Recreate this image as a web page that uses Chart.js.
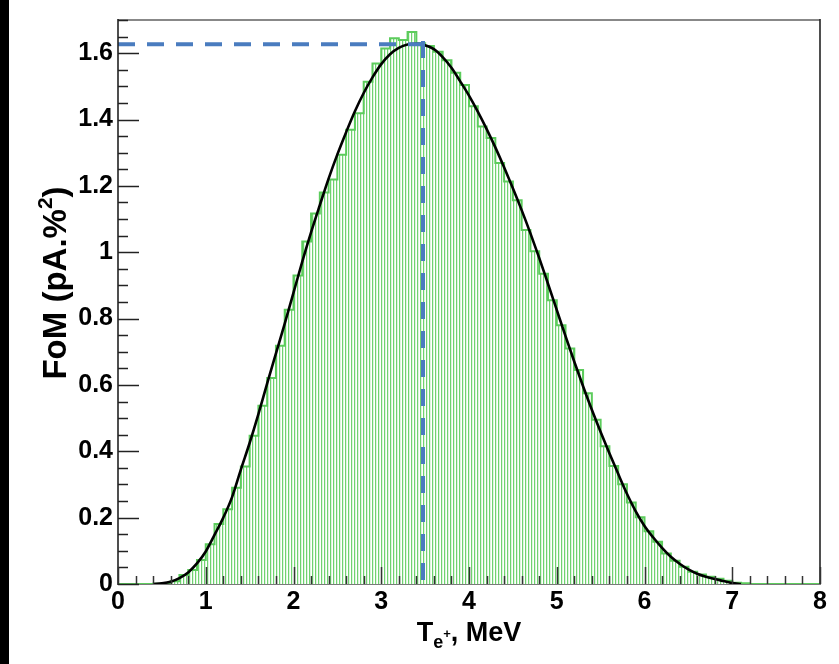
<!DOCTYPE html>
<html>
<head>
<meta charset="utf-8">
<script src="https://cdn.jsdelivr.net/npm/chart.js@4.4.0/dist/chart.umd.min.js"></script>
<style>
  html, body { margin: 0; padding: 0; background: #fff; }
  #wrap { width: 839px; height: 664px; }
</style>
</head>
<body>
<div id="wrap"><canvas id="fom" width="839" height="664"></canvas></div>
<script>
// histogram: 80 bins of 0.1 MeV from 0 to 8
const binStart = 0;
const binWidth = 0.1;
const fomHist = [
  0, 0, 0, 0, 0.001, 0.003, 0.008, 0.027, 0.042, 0.072,
  0.120, 0.181, 0.225, 0.290, 0.354, 0.447, 0.537, 0.621, 0.718, 0.827,
  0.930, 1.032, 1.117, 1.180, 1.219, 1.294, 1.369, 1.419, 1.514, 1.569,
  1.614, 1.645, 1.640, 1.664, 1.630, 1.622, 1.604, 1.579, 1.541, 1.504,
  1.440, 1.379, 1.344, 1.269, 1.213, 1.157, 1.067, 1.003, 0.935, 0.855,
  0.780, 0.710, 0.645, 0.575, 0.495, 0.415, 0.356, 0.301, 0.246, 0.201,
  0.159, 0.127, 0.092, 0.070, 0.052, 0.037, 0.029, 0.022, 0.016, 0.010,
  0.004, 0.002, 0, 0, 0, 0, 0, 0, 0, 0
];

// smooth fit, sampled every 0.1 MeV from 0.4 to 7.1
const fitStart = 0.4;
const fitStep = 0.1;
const fitFoM = [
  0.000, 0.002, 0.007, 0.018, 0.035, 0.062, 0.098, 0.148, 0.200, 0.262,
  0.345, 0.425, 0.512, 0.605, 0.695, 0.785, 0.878, 0.972, 1.060, 1.142,
  1.222, 1.295, 1.362, 1.425, 1.480, 1.527, 1.567, 1.597, 1.616, 1.626,
  1.628, 1.624, 1.612, 1.588, 1.556, 1.515, 1.472, 1.424, 1.372, 1.316,
  1.256, 1.193, 1.127, 1.057, 0.983, 0.905, 0.826, 0.747, 0.670, 0.596,
  0.525, 0.458, 0.394, 0.332, 0.272, 0.219, 0.175, 0.140, 0.109, 0.082,
  0.061, 0.044, 0.031, 0.022, 0.015, 0.009, 0.003, 0.000
];

// maximum of the fit
const peakE = 3.476;
const peakFoM = 1.627;

const xTicks = [0, 1, 2, 3, 4, 5, 6, 7, 8];
const xTickLabels = ['0', '1', '2', '3', '4', '5', '6', '7', '8'];
const yTicks = [0, 0.2, 0.4, 0.6, 0.8, 1, 1.2, 1.4, 1.6];
const yTickLabels = ['0', '0.2', '0.4', '0.6', '0.8', '1', '1.2', '1.4', '1.6'];
const xMinorStep = 0.2;
const yMinorStep = 0.05;

const FONT = '"Liberation Sans", Arial, sans-serif';
const TICK_FONT = '"Liberation Sans Narrow", "Liberation Sans", Arial, sans-serif';

// step outline points: one point per lower bin edge, plus closing edge
const histPoints = fomHist.map((v, i) => ({ x: +(binStart + i * binWidth).toFixed(2), y: v }));
histPoints.push({ x: +(binStart + fomHist.length * binWidth).toFixed(2), y: 0 });

const fitPoints = fitFoM.map((v, i) => ({ x: +(fitStart + i * fitStep).toFixed(2), y: v }));

// vertical hatch fill like ROOT's fill style
function makeHatch() {
  const c = document.createElement('canvas');
  c.width = 3; c.height = 4;
  const g = c.getContext('2d');
  g.fillStyle = '#ffffff';
  g.fillRect(0, 0, 3, 4);
  g.fillStyle = 'rgb(112,210,112)';
  g.fillRect(0, 0, 1, 4);
  g.fillStyle = 'rgb(222,245,222)';
  g.fillRect(1, 0, 1, 4);
  return g.createPattern(c, 'repeat');
}

// frame, inward ticks and axis titles
const frame = {
  id: 'frame',
  beforeDraw(chart) {
    const ctx = chart.ctx;
    ctx.save();
    ctx.fillStyle = '#fff';
    ctx.fillRect(0, 0, chart.width, chart.height);
    ctx.fillStyle = '#000';
    ctx.fillRect(0, 0, 9, chart.height);
    ctx.restore();
  },
  beforeDatasetsDraw(chart) {
    const { ctx, chartArea: a } = chart;
    ctx.save();
    ctx.lineWidth = 2;
    ctx.strokeStyle = '#888';
    ctx.beginPath(); ctx.moveTo(a.left, a.top); ctx.lineTo(a.right, a.top); ctx.stroke();
    ctx.strokeStyle = '#7a7a7a';
    ctx.beginPath(); ctx.moveTo(a.left, a.bottom); ctx.lineTo(a.right + 1, a.bottom); ctx.stroke();
    ctx.restore();
  },
  afterDatasetsDraw(chart) {
    const { ctx, chartArea: a, scales } = chart;
    const xs = scales.x, ys = scales.y;
    ctx.save();
    ctx.lineWidth = 1.6;
    ctx.strokeStyle = '#222';
    ctx.beginPath(); ctx.moveTo(a.left, a.top - 1); ctx.lineTo(a.left, a.bottom + 1); ctx.stroke();
    ctx.beginPath(); ctx.moveTo(a.right, a.top - 1); ctx.lineTo(a.right, a.bottom); ctx.stroke();

    ctx.lineWidth = 1.5;
    for (let v = ys.min; v <= ys.max + 1e-9; v += yMinorStep) {
      const major = Math.abs(v / 0.2 - Math.round(v / 0.2)) < 1e-6;
      const y = Math.round(ys.getPixelForValue(v)) + 0.5;
      ctx.beginPath();
      ctx.moveTo(a.left, y);
      ctx.lineTo(a.left + (major ? 21 : 10), y);
      ctx.stroke();
    }
    ctx.strokeStyle = '#333';
    for (let v = xs.min; v <= xs.max + 1e-9; v += xMinorStep) {
      const major = Math.abs(v - Math.round(v)) < 1e-6;
      const x = Math.round(xs.getPixelForValue(v)) + 0.5;
      ctx.beginPath();
      ctx.moveTo(x, a.bottom);
      ctx.lineTo(x, a.bottom - (major ? 17 : 8));
      ctx.stroke();
    }
    ctx.restore();
  },
  afterDraw(chart) {
    const { ctx, chartArea: a } = chart;
    ctx.save();
    ctx.fillStyle = '#000';
    ctx.textBaseline = 'alphabetic';

    // y title: FoM (pA.%²), rotated
    const big = 'bold 33px ' + FONT, sup = 'bold 21px ' + FONT;
    ctx.font = big;
    const w1 = ctx.measureText('FoM (pA.%').width;
    const w3 = ctx.measureText(')').width;
    ctx.font = sup;
    const w2 = ctx.measureText('2').width;
    const total = w1 + w2 + w3;
    ctx.translate(66, 283);
    ctx.rotate(-Math.PI / 2);
    let cx = -total / 2;
    ctx.font = big; ctx.fillText('FoM (pA.%', cx, 0); cx += w1;
    ctx.font = sup; ctx.fillText('2', cx, -14); cx += w2;
    ctx.font = big; ctx.fillText(')', cx, 0);
    ctx.setTransform(1, 0, 0, 1, 0, 0);

    // x title: T_{e+}, MeV
    const tF = 'bold 27px ' + FONT, subF = 'bold 18px ' + FONT, plusF = 'bold 13px ' + FONT;
    ctx.font = tF; const wT = ctx.measureText('T').width; const wM = ctx.measureText(', MeV').width;
    ctx.font = subF; const wE = ctx.measureText('e').width;
    ctx.font = plusF; const wP = ctx.measureText('+').width;
    let tx = (a.left + a.right) / 2 - (wT + wE + wP + wM) / 2;
    const by = 641;
    ctx.font = tF; ctx.fillText('T', tx, by); tx += wT;
    ctx.font = subF; ctx.fillText('e', tx, by + 7); tx += wE;
    ctx.font = plusF; ctx.fillText('+', tx, by - 3); tx += wP;
    ctx.font = tF; ctx.fillText(', MeV', tx, by);
    ctx.restore();
  }
};

const ctx = document.getElementById('fom').getContext('2d');
const dashColor = '#4a7cbf';

new Chart(ctx, {
  type: 'scatter',
  data: {
    datasets: [
      {
        label: 'peak level',
        data: [{ x: 0, y: peakFoM }, { x: peakE, y: peakFoM }],
        showLine: true, borderColor: dashColor, borderWidth: 4,
        borderDash: [17, 12], pointRadius: 0, clip: false
      },
      {
        label: 'peak energy',
        data: [{ x: peakE, y: peakFoM + 0.01 }, { x: peakE, y: 0 }],
        showLine: true, borderColor: dashColor, borderWidth: 4,
        borderDash: [17, 12], pointRadius: 0
      },
      {
        label: 'fit',
        data: fitPoints,
        showLine: true, borderColor: '#000', borderWidth: 2.6,
        cubicInterpolationMode: 'monotone', pointRadius: 0
      },
      {
        label: 'FoM',
        data: histPoints,
        showLine: true, stepped: 'before',
        borderColor: 'rgb(92,204,92)', borderWidth: 2,
        backgroundColor: makeHatch(), fill: 'origin', pointRadius: 0
      }
    ]
  },
  options: {
    responsive: false,
    animation: false,
    layout: { padding: { left: 0, right: 19, top: 15, bottom: 0 } },
    plugins: { legend: { display: false }, tooltip: { enabled: false } },
    scales: {
      x: {
        type: 'linear', min: 0, max: 8,
        afterBuildTicks: s => { s.ticks = xTicks.map(v => ({ value: v })); },
        afterFit: s => { s.height = 80; },
        grid: { display: false, drawTicks: false },
        border: { display: false },
        ticks: {
          color: '#000', padding: 3, maxRotation: 0,
          font: { family: TICK_FONT, size: 25, weight: 'bold' },
          callback: (v, i) => xTickLabels[i]
        }
      },
      y: {
        type: 'linear', min: 0, max: 1.7,
        afterBuildTicks: s => { s.ticks = yTicks.map(v => ({ value: v })); },
        afterFit: s => { s.width = 118; },
        grid: { display: false, drawTicks: false },
        border: { display: false },
        ticks: {
          color: '#000', padding: 5,
          font: { family: TICK_FONT, size: 25, weight: 'bold' },
          callback: (v, i) => yTickLabels[i]
        }
      }
    }
  },
  plugins: [frame]
});
</script>
</body>
</html>
